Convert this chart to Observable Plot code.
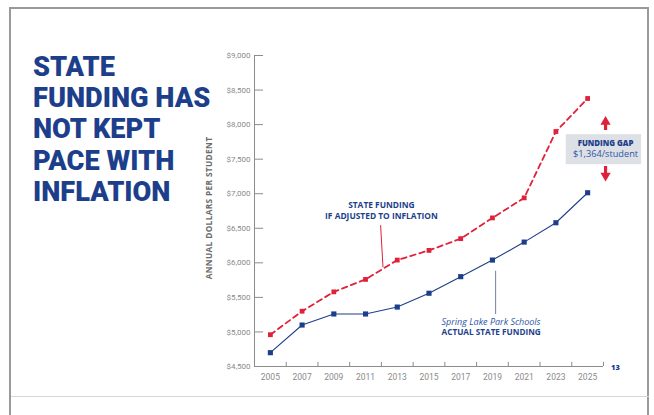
<!DOCTYPE html>
<html>
<head>
<meta charset="utf-8">
<script src="https://cdn.jsdelivr.net/npm/d3@7"></script>
<script src="https://cdn.jsdelivr.net/npm/@observablehq/plot@0.6"></script>
<style>
  html, body { margin: 0; padding: 0; background: #fff; }
  #page { position: relative; width: 654px; height: 415px; overflow: hidden; background: #fff; }
  #frame { position: absolute; left: 9px; top: 7px; width: 640px; height: 420px; border: 2px solid #9a9a9a; box-sizing: border-box; }
  #sep { position: absolute; left: 11px; top: 396px; width: 638px; height: 1px; background: #d6d6d6; }
  #title { position: absolute; left: 33px; top: 51px; font-family: Roboto, sans-serif; font-weight: 900;
           font-size: 28.5px; line-height: 31.2px; color: #1d3f8b; letter-spacing: 0px;
           transform: scaleX(0.955); transform-origin: 0 0; }
  #title div { height: 31.2px; white-space: nowrap; }
  #ylabel { position: absolute; left: 208px; top: 208px; transform: translate(-50%, -50%) rotate(-90deg);
            font-family: "Open Sans", sans-serif; font-weight: 700; font-size: 8.3px; letter-spacing: 0.35px;
            color: #6b6b6b; white-space: nowrap; }
  #pagenum { position: absolute; left: 611px; top: 362px; font-family: "Open Sans", sans-serif; font-weight: 800;
             font-size: 7.5px; color: #1d3f8b; }
  #chart { position: absolute; left: 0; top: 0; }
</style>
</head>
<body>
<div id="page">
  <div id="chart"></div>
  <div id="frame"></div>
  <div id="sep"></div>
  <div id="title"><div>STATE</div><div>FUNDING HAS</div><div>NOT KEPT</div><div>PACE WITH</div><div>INFLATION</div></div>
  <div id="ylabel">ANNUAL DOLLARS PER STUDENT</div>
  <div id="pagenum">13</div>
</div>
<script>
// ---- data ----
const years = [2005, 2007, 2009, 2011, 2013, 2015, 2017, 2019, 2021, 2023, 2025];
const inflationAdjusted = [4960, 5300, 5580, 5760, 6040, 6180, 6350, 6650, 6940, 7900, 8378];
const actualFunding = [4700, 5100, 5260, 5260, 5360, 5560, 5800, 6040, 6300, 6580, 7014];
const yTicks = [4500, 5000, 5500, 6000, 6500, 7000, 7500, 8000, 8500, 9000];
const xTickMarks = [2006, 2008, 2010, 2012, 2014, 2016, 2018, 2020, 2022, 2024, 2026];

const RED = "#e1203a";
const BLUE = "#1d3f8b";
const GRAYAX = "#8c8c8c";

const rows = years.map((y, i) => ({year: y, inflation: inflationAdjusted[i], actual: actualFunding[i]}));

const fmt = d3.format(",");
const OS = "'Open Sans', sans-serif";
const chart = Plot.plot({
  width: 654,
  height: 415,
  marginLeft: 254,
  marginRight: 51,
  marginTop: 55,
  marginBottom: 49,
  style: {fontFamily: "'Liberation Sans Narrow', 'Roboto', sans-serif", background: "transparent"},
  x: {domain: [2004, 2026], label: null},
  y: {domain: [4500, 9000], label: null},
  marks: [
    // axes
    Plot.axisY({ticks: yTicks, tickSize: 0, tickPadding: 4, tickFormat: d => "$" + fmt(d), fontSize: 8, color: "#8a8a8a", label: null}),
    Plot.axisX({ticks: years, tickSize: 0, tickPadding: 7, tickFormat: d => String(d), fontSize: 8.5, color: "#8a8a8a", label: null}),
    Plot.ruleX([2004], {y1: 4500, y2: 9000, stroke: GRAYAX, strokeWidth: 1}),
    Plot.ruleY([4500], {x1: 2004, x2: 2026, stroke: GRAYAX, strokeWidth: 1}),
    Plot.ruleY(yTicks, {y: d => d, x1: 2004, x2: 2004.57, stroke: GRAYAX, strokeWidth: 1}),
    Plot.ruleX(xTickMarks, {x: d => d, y1: 4500, y2: 4560, stroke: GRAYAX, strokeWidth: 1}),

    // series
    Plot.line(rows, {x: "year", y: "actual", stroke: BLUE, strokeWidth: 1.1}),
    Plot.line(rows, {x: "year", y: "inflation", stroke: RED, strokeWidth: 1.8, strokeDasharray: "5.5,4"}),
    Plot.dot(rows, {x: "year", y: "actual", symbol: "square", r: 2.9, fill: BLUE}),
    Plot.dot(rows, {x: "year", y: "inflation", symbol: "square", r: 2.7, fill: RED}),

    // annotation: inflation
    Plot.text(["STATE FUNDING"], {x: 2012, y: 6830, text: d => d, fontFamily: OS, fontWeight: 700, fontSize: 8.4, fill: BLUE, style: "letter-spacing:0.9px"}),
    Plot.text(["IF ADJUSTED TO INFLATION"], {x: 2012, y: 6678, text: d => d, fontFamily: OS, fontWeight: 700, fontSize: 8.4, fill: BLUE, style: "letter-spacing:0.55px"}),
    Plot.link([0], {x1: 2011.95, y1: 6545, x2: 2012.1, y2: 5937, stroke: RED, strokeWidth: 1}),

    // annotation: actual
    Plot.link([0], {x1: 2019.2, y1: 5885, x2: 2019.2, y2: 5260, stroke: "#6d7fa6", strokeWidth: 1}),
    Plot.text(["Spring Lake Park Schools"], {x: 2015.79, y: 5148, text: d => d, textAnchor: "start", fontFamily: OS, fontStyle: "italic", fontSize: 9, fill: "#2d56a8", style: "letter-spacing:0.15px"}),
    Plot.text(["ACTUAL STATE FUNDING"], {x: 2015.79, y: 4990, text: d => d, textAnchor: "start", fontFamily: OS, fontWeight: 700, fontSize: 8.2, fill: BLUE, style: "letter-spacing:0.6px"}),

    // annotation: funding gap
    Plot.rect([0], {x1: 2023.65, x2: 2028.4, y1: 7420, y2: 7855, fill: "#dde0e5", clip: false}),
    Plot.text(["FUNDING GAP"], {x: 2026.13, y: 7730, text: d => d, fontFamily: OS, fontWeight: 800, fontSize: 7.8, fill: BLUE, style: "letter-spacing:0.85px"}),
    Plot.text(["$1,364/student"], {x: 2026.13, y: 7580, text: d => d, fontFamily: OS, fontSize: 9.2, fill: "#2d56a8"}),
    Plot.ruleX([2026.13], {y1: 7915, y2: 8040, stroke: RED, strokeWidth: 3.2}),
    Plot.dot([0], {x: 2026.13, y: 8040, symbol: "triangle", r: 3.8, fill: RED}),
    Plot.ruleX([2026.13], {y1: 7394, y2: 7270, stroke: RED, strokeWidth: 3.2}),
    Plot.dot([0], {x: 2026.13, y: 7262, symbol: "triangle", r: 3.8, fill: RED, rotate: 180})
  ]
});
document.getElementById("chart").appendChild(chart);
</script>
</body>
</html>
